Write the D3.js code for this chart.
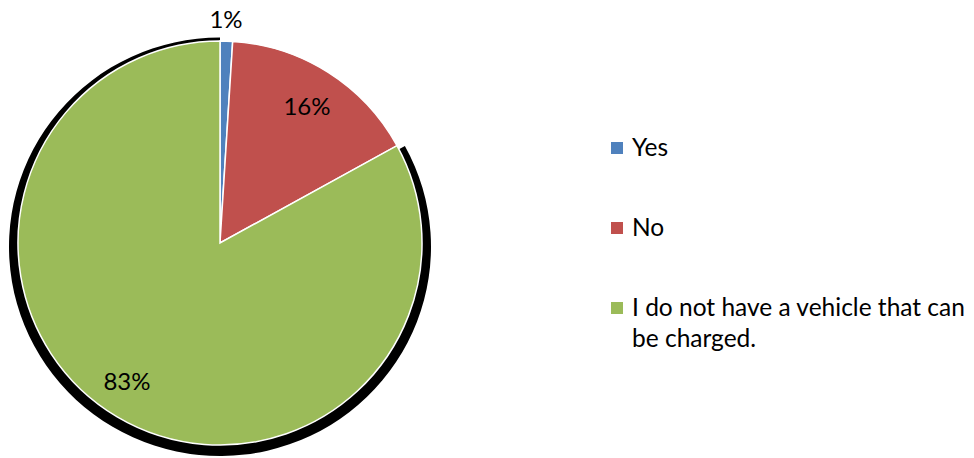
<!DOCTYPE html>
<html>
<head>
<meta charset="utf-8">
<script src="https://cdn.jsdelivr.net/npm/d3@7/dist/d3.min.js"></script>
<style>
  html, body { margin: 0; padding: 0; background: #fff; }
  svg { display: block; }
  text { font-family: Lato, "Open Sans", sans-serif; fill: #000; }
</style>
</head>
<body>
<svg id="chart" width="974" height="458"></svg>
<script>
// Survey answers and their shares (percent)
const categories = ["Yes", "No", "I do not have a vehicle that can be charged."];
const legendLines = [["Yes"], ["No"], ["I do not have a vehicle that can", "be charged."]];
const values = [1, 16, 83];
const colors = ["#4F81BD", "#C0504D", "#9BBB59"];

const svg = d3.select("#chart");
const cx = 220, cy = 243, radius = 202;

const pie = d3.pie().sort(null).value(d => d)(values);
const arc = d3.arc().innerRadius(0).outerRadius(radius);

// Drop shadow under the largest slice (slightly stretched and pushed down)
svg.append("g")
  .attr("transform", `translate(${cx},${cy + 3.75}) scale(${211 / radius},${209.25 / radius})`)
  .selectAll("path")
  .data(pie.filter((d, i) => i === values.length - 1))
  .join("path")
  .attr("d", arc)
  .attr("fill", "#000");

const g = svg.append("g").attr("transform", `translate(${cx},${cy})`);
g.selectAll("path.slice")
  .data(pie)
  .join("path")
  .attr("class", "slice")
  .attr("d", arc)
  .attr("fill", (d, i) => colors[i])
  .attr("stroke", "#fff")
  .attr("stroke-width", 1.5);

// Percentage labels
const labelPos = [[226, 28], [307, 115], [127, 390]];
svg.selectAll("text.pct")
  .data(pie)
  .join("text")
  .attr("class", "pct")
  .attr("x", (d, i) => labelPos[i][0])
  .attr("y", (d, i) => labelPos[i][1])
  .attr("text-anchor", "middle")
  .style("font-size", "24px")
  .text(d => d.data + "%");

// Legend
const legendY = [156, 236, 316];
const lg = svg.append("g");
legendLines.forEach((lines, i) => {
  lg.append("rect")
    .attr("x", 611).attr("y", legendY[i] - 14)
    .attr("width", 12).attr("height", 12)
    .attr("fill", colors[i]);
  const t = lg.append("text")
    .attr("x", 632).attr("y", legendY[i])
    .style("font-size", "24.5px");
  lines.forEach((s, j) => {
    t.append("tspan").attr("x", 632).attr("dy", j === 0 ? 0 : 31).text(s);
  });
});
</script>
</body>
</html>
